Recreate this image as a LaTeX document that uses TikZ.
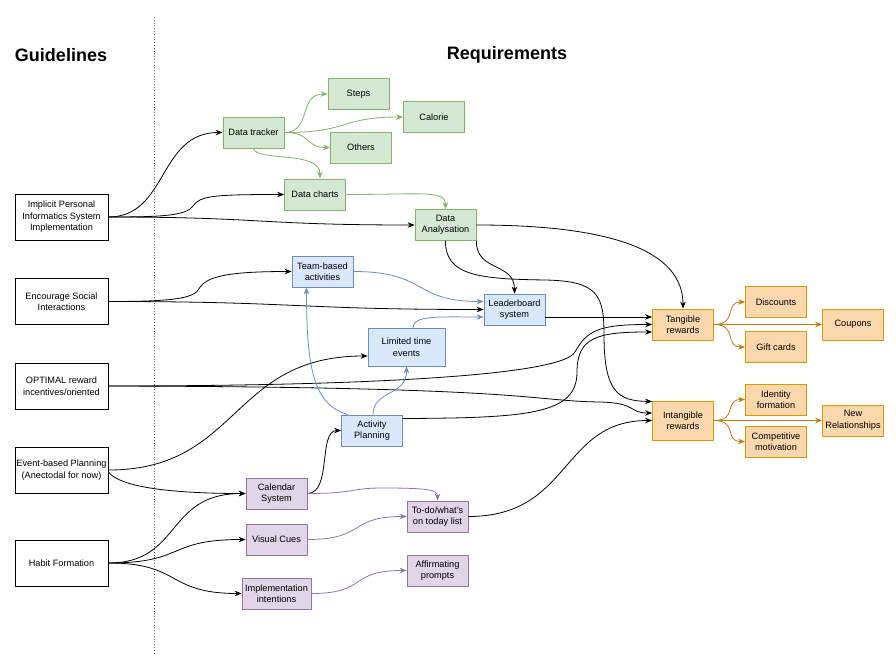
\documentclass[tikz,border=0pt]{standalone}
\usepackage{fontspec}
\setmainfont{Liberation Sans}
\usetikzlibrary{arrows.meta,calc}
\definecolor{gfill}{HTML}{D5E8D4}\definecolor{gline}{HTML}{82B366}
\definecolor{bfill}{HTML}{DAE8FC}\definecolor{bline}{HTML}{6C8EBF}
\definecolor{ofill}{HTML}{FAD7AC}\definecolor{oline}{HTML}{D79B00}\definecolor{oedge}{HTML}{C07A10}
\definecolor{pfill}{HTML}{E1D5E7}\definecolor{pline}{HTML}{9673A6}
\tikzset{
  box/.style={draw, line width=0.8pt, align=center, inner sep=0pt, minimum width=61pt, minimum height=31pt,
    font=\fontsize{9.2}{11.5}\selectfont},
  guide/.style={box, draw=black, fill=white, minimum width=93pt, minimum height=46pt},
  gbox/.style={box, draw=gline, fill=gfill},
  bbox/.style={box, draw=bline, fill=bfill},
  obox/.style={box, draw=oline, fill=ofill},
  pbox/.style={box, draw=pline, fill=pfill},
  title/.style={font=\fontsize{18}{22}\selectfont\bfseries},
  arr/.style={line width=0.8pt, -{Stealth[length=7pt,width=5.5pt]}},
  karr/.style={arr, draw=black},
  garr/.style={arr, draw=gline},
  barr/.style={arr, draw=bline},
  parr/.style={arr, draw=pline},
  oarr/.style={arr, draw=oedge},
}
\begin{document}
\begin{tikzpicture}[x=1pt,y=-1pt]
\useasboundingbox (0,0) rectangle (896,668);
\fill[white] (0,0) rectangle (896,668);

\node[title] (tg1) at (61,55) {Guidelines};
\node[title] (tg2) at (507,55) {Requirements};
\coordinate (dtop) at (154,17);
\coordinate (dbot) at (154,655);
\draw[gray!80!black, dotted, line width=0.8pt] (dtop) -- (dbot);

% guidelines
\node[guide] (imp) at (61.5,217) {Implicit Personal\\Informatics System\\Implementation};
\node[guide] (enc) at (61.5,301.5) {Encourage Social\\Interactions};
\node[guide] (opt) at (61.5,386) {OPTIMAL reward\\incentives/oriented};
\node[guide] (evt) at (61.5,470) {Event-based Planning\\(Anectodal for now)};
\node[guide] (hab) at (61.5,563) {Habit Formation};

% green
\node[gbox] (dt) at (253.5,132.5) {Data tracker};
\node[gbox] (stp) at (358.5,94) {Steps};
\node[gbox] (cal) at (434,117) {Calorie};
\node[gbox] (oth) at (361,147.5) {Others};
\node[gbox] (dc) at (315,194.5) {Data charts};
\node[gbox] (da) at (445.5,225) {Data\\Analysation};

% blue
\node[bbox] (tb) at (322.5,271.5) {Team-based\\activities};
\node[bbox] (lb) at (514.5,309.5) {Leaderboard\\system};
\node[bbox, minimum width=77pt, minimum height=38pt] (lt) at (406.5,347) {Limited time\\events};
\node[bbox] (ap) at (372,430.5) {Activity\\Planning};

% orange
\node[obox] (tr) at (683,324.5) {Tangible\\rewards};
\node[obox] (dis) at (776,302) {Discounts};
\node[obox] (cou) at (853,324.5) {Coupons};
\node[obox] (gif) at (776,347) {Gift cards};
\node[obox, minimum height=39pt] (ir) at (683,420.5) {Intangible\\rewards};
\node[obox] (idf) at (776,399.5) {Identity\\formation};
\node[obox] (nrl) at (853,420.5) {New\\Relationships};
\node[obox] (cmp) at (776,441.5) {Competitive\\motivation};

% purple
\node[pbox] (cs) at (276.5,493.5) {Calendar\\System};
\node[pbox] (vc) at (276.5,539.5) {Visual Cues};
\node[pbox, minimum width=69pt] (ii) at (276.5,593.5) {Implementation\\intentions};
\node[pbox] (td) at (437.5,516.5) {To-do/what's\\on today list};
\node[pbox] (af) at (437.5,570.5) {Affirmating\\prompts};

% ---- black connectors
\draw[karr] (imp.east) .. controls (168,217) and (158,132.5) .. (dt.west);
\draw[karr] (imp.east) .. controls (160,217) and (186,216) .. (193,206)
   .. controls (200,196) and (212,194.5) .. (dc.west);
\draw[karr] (imp.east) .. controls (262,217) and (258,225) .. (da.west);
\draw[karr] (da.east) .. controls (610,225) and (683,250) .. (tr.north);
\draw[karr] (da.south east) .. controls (476,272) and (514.5,262) .. (lb.north);
\draw[karr] (da.south) .. controls (445,276) and (480,279) .. (545,280)
   .. controls (598,281) and (604,295) .. (604,335)
   .. controls (604,392) and (618,401) .. ($(ir.west)+(0,-19)$);
\draw[karr] (enc.east) .. controls (160,301.5) and (192,300) .. (198,290)
   .. controls (205,278) and (220,271.5) .. (tb.west);
\draw[karr] (enc.east) .. controls (298,301.5) and (296,309.5) .. (lb.west);
\draw[karr] ($(lb.east)+(0,7.5)$) -- ($(tr.west)+(0,-7.5)$);
\draw[karr] (opt.east) .. controls (360,386) and (562,376) .. (575,352)
   .. controls (587,330) and (600,324.5) .. (tr.west);
\draw[karr] (opt.east) .. controls (536,387) and (528,401) .. (600,402)
   .. controls (638,403) and (628,413) .. ($(ir.west)+(0,-7.5)$);
\draw[karr] ($(ap.east)+(0,-12)$) .. controls (530,418) and (577,414) .. (577,372)
   .. controls (577,337) and (598,332) .. ($(tr.west)+(0,7.5)$);
\draw[karr] (td.east) .. controls (572,516.5) and (560,420.5) .. (ir.west);
\draw[karr] (evt.east) .. controls (240,470) and (230,356) .. ($(lt.west)+(0,9)$);
\draw[karr] ($(evt.east)+(0,2)$) .. controls (122,490) and (190,493.5) .. (cs.west);
\draw[karr] (hab.east) .. controls (182,563) and (165,493.5) .. (cs.west);
\draw[karr] (hab.east) .. controls (186,563) and (166,539.5) .. (vc.west);
\draw[karr] (hab.east) .. controls (182,563) and (166,593.5) .. (ii.west);
\draw[karr] (cs.east) .. controls (332,493.5) and (318,430.5) .. (ap.west);

% ---- green connectors
\draw[garr] (dt.east) .. controls (312,132.5) and (298,94) .. (stp.west);
\draw[garr] (dt.east) .. controls (350,132.5) and (340,117) .. (cal.west);
\draw[garr] (dt.east) .. controls (312,132.5) and (305,147.5) .. (oth.west);
\draw[garr] (dt.south) .. controls (256,162) and (320,150) .. ($(dc.north)+(5,0)$);
\draw[garr] (dc.east) .. controls (425,194.5) and (445.5,190) .. (da.north);

% ---- blue connectors
\draw[barr] (tb.east) .. controls (428,271.5) and (412,301.5) .. ($(lb.west)+(0,-8)$);
\draw[barr] ($(lt.north)+(6.5,0)$) .. controls (413,315) and (440,317) .. ($(lb.west)+(0,7.5)$);
\draw[barr] ($(ap.north west)+(7,0)$) .. controls (314,405) and (306.5,370) .. ($(tb.south)+(-16,0)$);
\draw[barr] ($(ap.north)+(1,0)$) .. controls (373,390) and (407,396) .. (lt.south);

% ---- purple connectors
\draw[parr] (cs.east) .. controls (356,493.5) and (350,488) .. (382,488)
   .. controls (430,488) and (437.5,490) .. (td.north);
\draw[parr] (vc.east) .. controls (366,539.5) and (348,516.5) .. (td.west);
\draw[parr] (ii.east) .. controls (368,593.5) and (348,570.5) .. (af.west);

% ---- orange connectors
\draw[oarr] (tr.east) .. controls (738,324.5) and (724,302) .. (dis.west);
\draw[oarr] (tr.east) -- (cou.west);
\draw[oarr] (tr.east) .. controls (738,324.5) and (724,347) .. (gif.west);
\draw[oarr] (ir.east) .. controls (738,420.5) and (724,399.5) .. (idf.west);
\draw[oarr] (ir.east) -- (nrl.west);
\draw[oarr] (ir.east) .. controls (738,420.5) and (724,441.5) .. (cmp.west);
\end{tikzpicture}
\end{document}
